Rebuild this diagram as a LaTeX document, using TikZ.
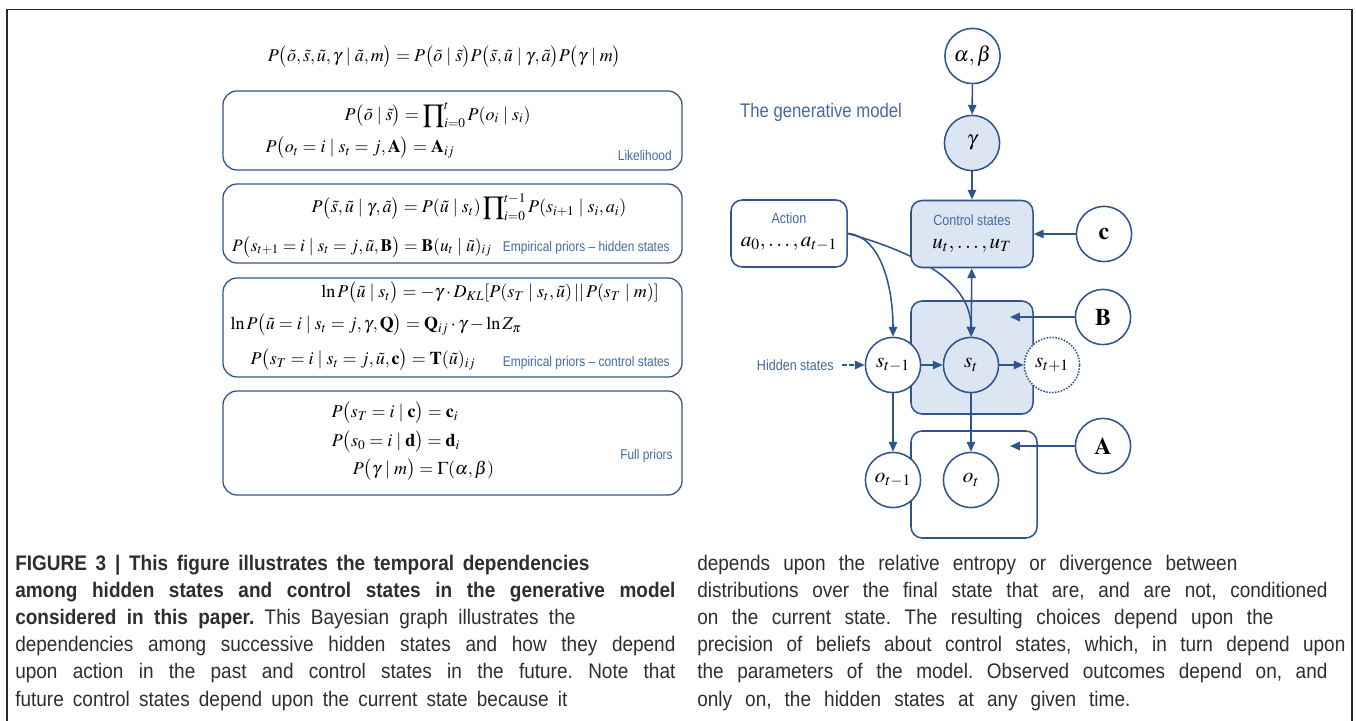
\documentclass[tikz,border=0pt]{standalone}
\usepackage{amsmath}
\usepackage{mathptmx}
\usepackage[no-math]{fontspec}
\setmainfont{Liberation Sans}
\newfontfamily\capfont[FakeStretch=0.9]{Liberation Sans}
\newfontfamily\lblfont[FakeStretch=0.85]{Liberation Sans}
\usetikzlibrary{arrows.meta,positioning,calc}

\definecolor{lineblue}{RGB}{47,85,140}
\definecolor{lblblue}{RGB}{68,106,163}
\definecolor{shade}{RGB}{220,230,242}
\definecolor{framegray}{RGB}{40,40,40}

\newcommand{\gv}{\mskip4mu|\mskip4mu}
\newcommand{\eqfont}{\fontsize{12.8}{16}\selectfont\thickmuskip=4mu plus 2mu\relax}

\begin{document}
\frenchspacing
\begin{tikzpicture}[x=0.025cm, y=-0.025cm,
  var/.style={circle, draw=lineblue, line width=1.1pt, fill=white, minimum size=1.38cm, inner sep=0pt, font=\fontsize{15}{18}\selectfont},
  shvar/.style={var, fill=shade},
  futvar/.style={var, densely dotted},
  parm/.style={var, font=\fontsize{17}{20}\selectfont},
  plate/.style={draw=lineblue, line width=1.1pt, rounded corners=8pt},
  eqbox/.style={draw=lineblue, line width=0.9pt, rounded corners=10pt},
  eq/.style={font=\eqfont, inner sep=0pt},
  tag/.style={font=\lblfont\fontsize{10}{12}\selectfont, text=lblblue, inner sep=0pt},
  dlbl/.style={font=\lblfont\fontsize{10.5}{12}\selectfont, text=lblblue, inner sep=0pt},
  arr/.style={-{Triangle[length=7pt,width=6pt]}, lineblue, line width=1.1pt},
  capline/.style={font=\capfont\fontsize{15}{18}\selectfont, anchor=base west, inner sep=0pt, text=black!82}
]
\useasboundingbox (0,0) rectangle (1356,721);

% Frame
\draw[framegray, line width=1pt] (7,721) -- (7,9.5) -- (1352,9.5) -- (1352,721);

% Equations
\node[eq] (joint) at (444.5,57) {$P\bigl(\tilde{o},\tilde{s},\tilde{u},\gamma\gv\tilde{a},m\bigr)=P\bigl(\tilde{o}\gv\tilde{s}\bigr)P\bigl(\tilde{s},\tilde{u}\gv\gamma,\tilde{a}\bigr)P\bigl(\gamma\gv m\bigr)$};

\draw[eqbox] (223,91) rectangle (682,170);
\node[eq] (lik1) at (437.5,115) {$P\bigl(\tilde{o}\gv\tilde{s}\bigr)=\displaystyle\prod\nolimits_{i=0}^{t}P(o_i\gv s_i)$};
\node[eq] (lik2) at (360,148) {$P\bigl(o_t=i\gv s_t=j,\mathbf{A}\bigr)=\mathbf{A}_{ij}$};
\node[tag, anchor=east] (liktag) at (672,155) {Likelihood};

\draw[eqbox] (223,184) rectangle (682,263);
\node[eq] (hid1) at (469,207) {$P\bigl(\tilde{s},\tilde{u}\gv\gamma,\tilde{a}\bigr)=P(\tilde{u}\gv s_t)\displaystyle\prod\nolimits_{i=0}^{t-1}P(s_{i+1}\gv s_i,a_i)$};
\node[eq, font=\fontsize{12.4}{15}\selectfont] (hid2) at (362,247) {$P\bigl(s_{t+1}=i\gv s_t=j,\tilde{u},\mathbf{B}\bigr)=\mathbf{B}(u_t\gv\tilde{u})_{ij}$};
\node[tag, anchor=east] (hidtag) at (670,248) {Empirical priors \textendash{} hidden states};

\draw[eqbox] (223,278) rectangle (682,377);
\node[eq] (ctl1) at (490,293) {$\ln P\bigl(\tilde{u}\gv s_t\bigr)=-\gamma\cdot D_{KL}[P(s_T\gv s_t,\tilde{u})\,||\,P(s_T\gv m)]$};
\node[eq] (ctl2) at (376,325) {$\ln P\bigl(\tilde{u}=i\gv s_t=j,\gamma,\mathbf{Q}\bigr)=\mathbf{Q}_{ij}\cdot\gamma-\ln Z_\pi$};
\node[eq] (ctl3) at (363,360) {$P\bigl(s_T=i\gv s_t=j,\tilde{u},\mathbf{c}\bigr)=\mathbf{T}(\tilde{u})_{ij}$};
\node[tag, anchor=east] (ctltag) at (670,363) {Empirical priors \textendash{} control states};

\draw[eqbox] (223,391) rectangle (682,495);
\node[eq] (pri1) at (395,413) {$P\bigl(s_T=i\gv\mathbf{c}\bigr)=\mathbf{c}_i$};
\node[eq] (pri2) at (396,442) {$P\bigl(s_0=i\gv\mathbf{d}\bigr)=\mathbf{d}_i$};
\node[eq] (pri3) at (423.5,470) {$P\bigl(\gamma\gv m\bigr)=\Gamma(\alpha,\beta)$};
\node[tag, anchor=east] (pritag) at (673,456) {Full priors};

% Generative model
\node[font=\lblfont\fontsize{14}{16}\selectfont, text=lblblue, inner sep=0pt] (title) at (821,112) {The generative model};

\node[plate, fill=white, minimum width=2.9cm, minimum height=1.675cm] (act) at (789,233.5) {};
\node[dlbl] (actlbl) at (789,218) {Action};
\node[font=\fontsize{15}{18}\selectfont, inner sep=0pt] (actvars) at (789,244) {$a_0,\ldots,a_{t-1}$};

\node[plate, fill=shade, minimum width=3.05cm, minimum height=2.825cm] (hid) at (972,357.5) {};
\node[plate, minimum width=3.15cm, minimum height=2.675cm] (obs) at (974,484.5) {};

\node[var] (ab) at (972.5,56) {$\alpha,\beta$};
\node[shvar] (gam) at (972,143) {$\gamma$};
\node[parm] (cc) at (1104,234) {$\mathbf{c}$};
\node[parm] (BB) at (1103,317) {$\mathbf{B}$};
\node[parm] (AA) at (1103,446) {$\mathbf{A}$};
\node[var] (stm1) at (893,365) {$s_{t-1}$};
\node[shvar] (st) at (971,365) {$s_t$};
\node[futvar] (stp1) at (1052,365) {$s_{t+1}$};
\node[var] (otm1) at (893,480) {$o_{t-1}$};
\node[var] (ot) at (971,480) {$o_t$};
\node[dlbl, anchor=east] (hidlbl) at (834,365) {Hidden states};

\coordinate (bend) at (1010,317);
\coordinate (aend) at (1010,446);

% Action -> hidden states (behind control states)
\draw[arr] (act.east) .. controls (880,236) and (893,285) .. (stm1.north);
\draw[arr] (act.east) .. controls (935,258) and (971,290) .. (st.north);

\node[plate, fill=shade, minimum width=3.05cm, minimum height=1.675cm] (ctrl) at (972,234) {};
\node[dlbl] (ctrllbl) at (972,220) {Control states};
\node[font=\fontsize{15}{18}\selectfont, inner sep=0pt] (ctrlvars) at (972,246) {$u_t,\ldots,u_T$};

% Arrows
\draw[arr] (ab) -- (gam);
\draw[arr] (gam) -- (ctrl);
\draw[arr] (cc) -- (ctrl);
\draw[arr] (BB) -- (bend);
\draw[arr] (AA) -- (aend);
\draw[arr, {Triangle[length=7pt,width=6pt]}-{Triangle[length=7pt,width=6pt]}] (ctrl) -- (st);
\draw[arr] (stm1) -- (st);
\draw[arr] (st) -- (stp1);
\draw[arr] (stm1) -- (otm1);
\draw[arr] (st) -- (ot);
\draw[arr, dash pattern=on 3pt off 2pt, shorten <=6pt] (hidlbl) -- (stm1);

% Caption
\node[capline] (capL1) at (15,570) {\bfseries\makebox[14.35cm][s]{FIGURE 3 | This figure illustrates the temporal dependencies}};
\node[capline] (capL2) at (15,597.2) {\bfseries\makebox[16.5cm][s]{among hidden states and control states in the generative model}};
\node[capline] (capL3) at (15,624.4) {\makebox[14cm][s]{\textbf{considered in this paper.} This Bayesian graph illustrates the}};
\node[capline] (capL4) at (15,651.6) {\makebox[16.5cm][s]{dependencies among successive hidden states and how they depend}};
\node[capline] (capL5) at (15,678.8) {\makebox[16.5cm][s]{upon action in the past and control states in the future. Note that}};
\node[capline] (capL6) at (15,706) {\makebox[13.8cm][s]{future control states depend upon the current state because it}};

\node[capline] (capR1) at (697,570) {\makebox[13.5cm][s]{depends upon the relative entropy or divergence between}};
\node[capline] (capR2) at (697,597.2) {\makebox[15.75cm][s]{distributions over the final state that are, and are not, conditioned}};
\node[capline] (capR3) at (697,624.4) {\makebox[14.4cm][s]{on the current state. The resulting choices depend upon the}};
\node[capline] (capR4) at (697,651.6) {\makebox[16.2cm][s]{precision of beliefs about control states, which, in turn depend upon}};
\node[capline] (capR5) at (697,678.8) {\makebox[15.75cm][s]{the parameters of the model. Observed outcomes depend on, and}};
\node[capline] (capR6) at (697,706) {\makebox[10.825cm][s]{only on, the hidden states at any given time.}};
\end{tikzpicture}
\end{document}
